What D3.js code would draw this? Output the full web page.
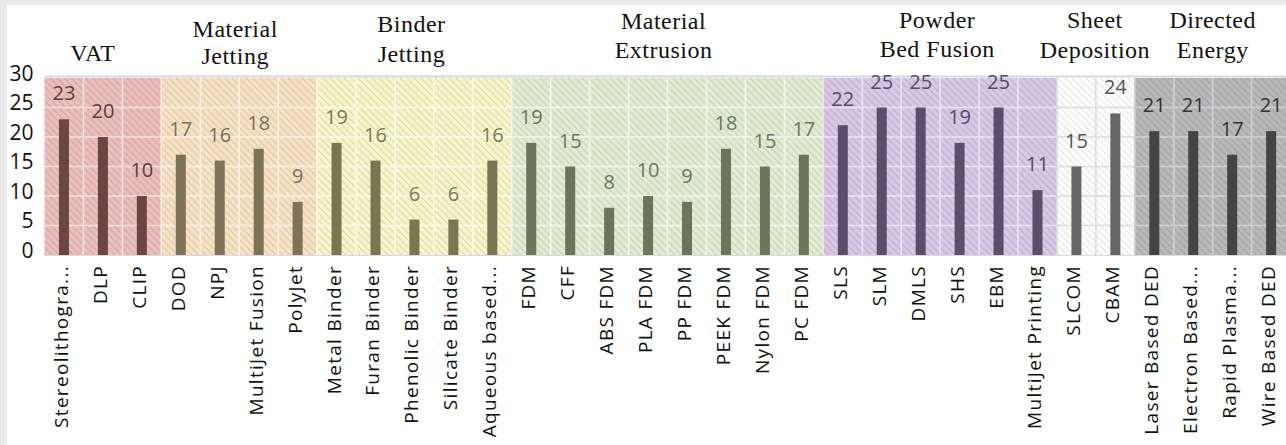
<!DOCTYPE html>
<html>
<head>
<meta charset="utf-8">
<script src="https://cdn.jsdelivr.net/npm/d3@7/dist/d3.min.js"></script>
<style>
  html, body { margin: 0; padding: 0; background: #e9eaec; }
  svg { display: block; }
</style>
</head>
<body>
<svg id="chart" width="1286" height="445"></svg>
<script>
// ---- data ----
const groups = ["VAT", "Material Jetting", "Binder Jetting", "Material Extrusion",
                "Powder Bed Fusion", "Sheet Deposition", "Directed Energy"];
const groupTitleLines = [["VAT"], ["Material", "Jetting"], ["Binder", "Jetting"],
                         ["Material", "Extrusion"], ["Powder", "Bed Fusion"],
                         ["Sheet", "Deposition"], ["Directed", "Energy"]];
const categories = [
  "Stereolithogra...", "DLP", "CLIP",
  "DOD", "NPJ", "MultiJet Fusion", "PolyJet",
  "Metal Binder", "Furan Binder", "Phenolic Binder", "Silicate Binder", "Aqueous based...",
  "FDM", "CFF", "ABS FDM", "PLA FDM", "PP FDM", "PEEK FDM", "Nylon FDM", "PC FDM",
  "SLS", "SLM", "DMLS", "SHS", "EBM", "MultiJet Printing",
  "SLCOM", "CBAM",
  "Laser Based DED", "Electron Based...", "Rapid Plasma...", "Wire Based DED"
];
const categoryGroup = [
  0, 0, 0,
  1, 1, 1, 1,
  2, 2, 2, 2, 2,
  3, 3, 3, 3, 3, 3, 3, 3,
  4, 4, 4, 4, 4, 4,
  5, 5,
  6, 6, 6, 6
];
const values = [
  23, 20, 10,
  17, 16, 18, 9,
  19, 16, 6, 6, 16,
  19, 15, 8, 10, 9, 18, 15, 17,
  22, 25, 25, 19, 25, 11,
  15, 24,
  21, 21, 17, 21
];
const yTicks = [0, 5, 10, 15, 20, 25, 30];

// ---- styles ----
const groupFill  = ["#ebbdbd", "#f6e1c3", "#f8f5c9", "#e0ecd2", "#d7c8e5", "#ffffff", "#b8b8b8"];
const groupGrid  = ["#f6e0e0", "#fcf1e3", "#fcfbe6", "#f0f6ea", "#ebe3f2", "#dcdcdc", "#d0d0d0"];
const barFill    = ["#6c4444", "#7e7257", "#7b7651", "#6a7659", "#5d4c6b", "#666666", "#444444"];
const labelFill  = ["#5e3c3c", "#7a6f5c", "#7b795b", "#6c775f", "#58486a", "#555555", "#333333"];

// ---- layout ----
const W = 1286, H = 445;
const plotLeft = 44.5, plotRight = 1290.6, plotTop = 78, plotBottom = 255;
const titleNudge = [-10, -4, -3, -4, -3, -1, 0];
const titleBaselines = [[61], [37, 64], [32, 62], [29, 58], [28, 57], [28, 58], [28, 58]];

const svg = d3.select("#chart");

const cell = d3.scaleBand().domain(categories).range([plotLeft, plotRight]).padding(0);
const x = d3.scaleBand().domain(categories).range([plotLeft, plotRight])
  .paddingInner(0.743).paddingOuter(0.3715);
const y = d3.scaleLinear().domain([0, 30]).range([plotBottom, plotTop]);

// page panel
svg.append("rect").attr("width", W).attr("height", H).attr("fill", "#e9eaec");
svg.append("rect").attr("x", 7).attr("y", 5).attr("width", W - 7).attr("height", H - 5).attr("fill", "#ffffff");

// hatch pattern
const defs = svg.append("defs");
const pat = defs.append("pattern").attr("id", "hatch")
  .attr("patternUnits", "userSpaceOnUse").attr("width", 7).attr("height", 7);
pat.append("path").attr("d", "M0,0 L7,7 M-2,5 L2,9 M5,-2 L9,2")
  .attr("stroke", "rgba(0,0,0,0.11)").attr("stroke-width", 1.1);

// group extents
const groupSpan = groups.map((g, gi) => {
  const cats = categories.filter((c, i) => categoryGroup[i] === gi);
  return { x0: cell(cats[0]), x1: cell(cats[cats.length - 1]) + cell.step() };
});

// backgrounds
svg.append("g").selectAll("rect").data(groupSpan).join("rect")
  .attr("x", d => d.x0).attr("y", y(30))
  .attr("width", d => d.x1 - d.x0).attr("height", y(0) - y(30))
  .attr("fill", (d, i) => groupFill[i]);

svg.append("rect").attr("x", plotLeft).attr("y", y(30))
  .attr("width", plotRight - plotLeft).attr("height", y(0) - y(30))
  .attr("fill", "url(#hatch)");

// gridlines per group
const grid = svg.append("g");
groupSpan.forEach((s, gi) => {
  yTicks.filter(t => t > 0 && t < 30).forEach(t => {
    grid.append("line").attr("x1", s.x0).attr("x2", s.x1)
      .attr("y1", y(t)).attr("y2", y(t))
      .attr("stroke", groupGrid[gi]).attr("stroke-width", 1.6);
  });
});
categories.forEach((c, i) => {
  if (i === 0) return;
  grid.append("line").attr("x1", cell(c)).attr("x2", cell(c))
    .attr("y1", y(30)).attr("y2", y(0))
    .attr("stroke", groupGrid[categoryGroup[i]]).attr("stroke-width", 1.6);
});

// frame lines
svg.append("line").attr("x1", plotLeft).attr("x2", plotRight)
  .attr("y1", y(30) - 1.5).attr("y2", y(30) - 1.5)
  .attr("stroke", "#d4d8df").attr("stroke-width", 2);
svg.append("line").attr("x1", plotLeft).attr("x2", plotRight)
  .attr("y1", y(0) + 0.5).attr("y2", y(0) + 0.5)
  .attr("stroke", "#d9dadc").attr("stroke-width", 1);

// bars
svg.append("g").selectAll("rect").data(values).join("rect")
  .attr("x", (d, i) => x(categories[i]))
  .attr("y", d => y(d))
  .attr("width", x.bandwidth())
  .attr("height", d => y(0) - y(d))
  .attr("fill", (d, i) => barFill[categoryGroup[i]]);

// value labels
svg.append("g").selectAll("text").data(values).join("text")
  .attr("x", (d, i) => x(categories[i]) + x.bandwidth() / 2)
  .attr("y", d => y(d) - 19)
  .attr("text-anchor", "middle")
  .attr("font-family", "'Open Sans', sans-serif")
  .attr("font-size", 20)
  .attr("fill", (d, i) => labelFill[categoryGroup[i]])
  .text(d => d);

// y axis
const yAxis = svg.append("g")
  .attr("transform", `translate(${plotLeft},0)`)
  .call(d3.axisLeft(y).tickValues(yTicks).tickSize(0).tickPadding(11));
yAxis.select(".domain").remove();
yAxis.selectAll("text")
  .attr("font-family", "'Open Sans', sans-serif")
  .attr("font-size", 21)
  .attr("fill", "#111")
  .attr("dy", "0.1em");

// category labels
svg.append("g").selectAll("text").data(categories).join("text")
  .attr("transform", c => `translate(${cell(c) + cell.step() / 2 + 4},265) rotate(-90)`)
  .attr("text-anchor", "end")
  .attr("font-family", "'Open Sans', sans-serif")
  .attr("font-size", 19)
  .attr("letter-spacing", "1.3px")
  .attr("fill", "#111")
  .text(c => c);

// group titles
const titles = svg.append("g");
groupTitleLines.forEach((lines, gi) => {
  const cx = (groupSpan[gi].x0 + groupSpan[gi].x1) / 2 + titleNudge[gi];
  lines.forEach((line, li) => {
    titles.append("text")
      .attr("x", cx).attr("y", titleBaselines[gi][li])
      .attr("text-anchor", "middle")
      .attr("font-family", "'Liberation Serif', 'Times New Roman', serif")
      .attr("font-size", 24)
      .attr("letter-spacing", "0.5px")
      .attr("fill", "#111")
      .text(line);
  });
});
</script>
</body>
</html>
